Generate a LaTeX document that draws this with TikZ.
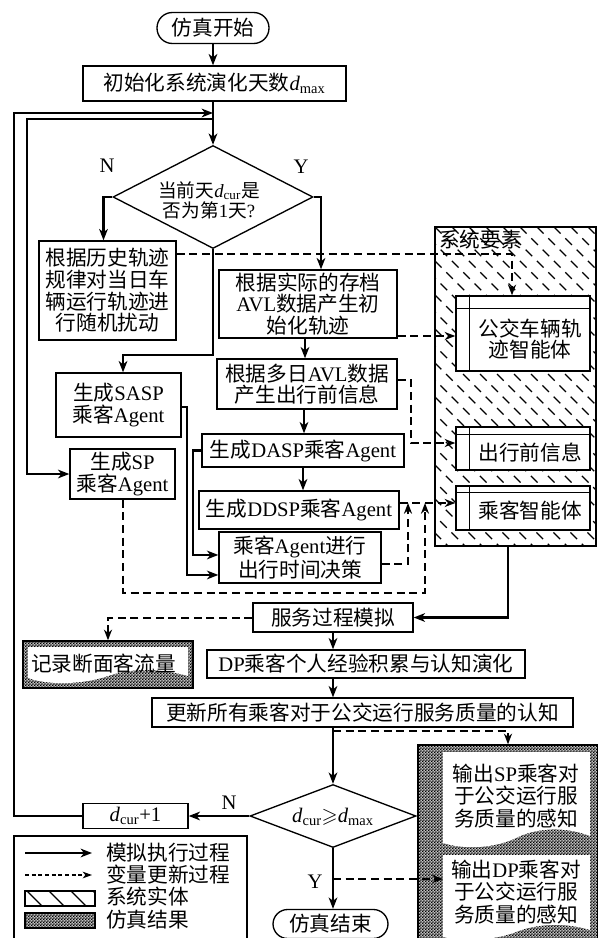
\documentclass[tikz,border=0pt]{standalone}
\usepackage{fontspec}
\usepackage{amssymb}
\setmainfont{Liberation Serif}
\newfontfamily\zh{Noto Sans CJK SC}
\usetikzlibrary{shapes.geometric,arrows.meta,patterns}
\newcommand\fs{\fontsize{15.5pt}{16.2pt}\selectfont}
\newcommand\lat[1]{{\rmfamily #1}}
\newcommand\dd[1]{{\rmfamily\textit{d}\textsubscript{#1}}}
\pgfdeclarepatternformonly{finechecker}{\pgfqpoint{0pt}{0pt}}{\pgfqpoint{2.4pt}{2.4pt}}{\pgfqpoint{2.4pt}{2.4pt}}{%
  \pgfpathrectangle{\pgfqpoint{0pt}{0pt}}{\pgfqpoint{1.2pt}{1.2pt}}%
  \pgfpathrectangle{\pgfqpoint{1.2pt}{1.2pt}}{\pgfqpoint{1.2pt}{1.2pt}}%
  \pgfusepath{fill}}
\begin{document}
\begin{tikzpicture}[x=0.75pt,y=-0.75pt,
  sz/.style 2 args={minimum width=#1*0.75pt, minimum height=#2*0.75pt},
  box/.style={draw, line width=1pt, fill=white, inner sep=0pt, align=center, font=\fs\zh},
  txt/.style={inner sep=0pt, align=center, font=\fs\zh},
  lbl/.style={inner sep=0pt, font=\fs\rmfamily},
  flow/.style={line width=1.8pt, -{Stealth[length=8.5pt,width=6.5pt,inset=2.5pt]}},
  upd/.style={line width=1.5pt, dash pattern=on 6pt off 3.5pt, -{Stealth[length=8pt,width=6pt,inset=2.5pt]}},
  hatch/.style={line width=1pt, dash pattern=on 7pt off 5pt},
  chk/.style={draw, line width=1pt, fill=gray!50, postaction={pattern=finechecker}, inner sep=0pt}
]
\useasboundingbox (0,0) rectangle (597,938);

% ---------- system elements region ----------
\node[draw, line width=1pt, inner sep=0pt, sz={161}{319}] (sys) at (515.5,386.5) {};
\begin{scope}
  \clip (sys.north west) rectangle (sys.south east);
  \foreach \i in {0,...,30} \draw[hatch] (95+\i*17,227) -- ++(330,330);
\end{scope}
\node[txt, anchor=west] (systitle) at (439,240) {系统要素};

\node[box, sz={134}{75}] (bus) at (523,333.5) {};
\node[box, sz={134}{43}] (pre) at (523,448.5) {};
\node[box, sz={134}{44}] (pas) at (523,508) {};
\draw[line width=1pt] ([xshift=10.5pt]bus.north west) -- ([xshift=10.5pt]bus.south west);
\draw[line width=1pt] ([yshift=-9.75pt]bus.north west) -- ([yshift=-9.75pt]bus.north east);
\draw[line width=1pt] ([xshift=10.5pt]pre.north west) -- ([xshift=10.5pt]pre.south west);
\draw[line width=1pt] ([yshift=-6pt]pre.north west) -- ([yshift=-6pt]pre.north east);
\draw[line width=1pt] ([xshift=10.5pt]pas.north west) -- ([xshift=10.5pt]pas.south west);
\draw[line width=1pt] ([yshift=-5.25pt]pas.north west) -- ([yshift=-5.25pt]pas.north east);
\node[txt] (bust) at (530,339) {公交车辆轨\\迹智能体};
\node[txt] (pret) at (530,453) {出行前信息};
\node[txt] (past) at (530,511) {乘客智能体};

% ---------- main nodes ----------
\node[box, rounded corners=11.5pt, sz={112}{31}] (start) at (213,28) {仿真开始};
\node[box, sz={263}{35}] (init) at (214.5,83.5) {初始化系统演化天数\dd{max}};
\node[draw, line width=1pt, diamond, inner sep=0pt, sz={200}{103}] (d1) at (213,197) {};
\node[inner sep=0pt, align=center, font=\fontsize{14pt}{14pt}\selectfont\zh] (d1t) at (209,200) {当前天\dd{cur}是\\否为第\lat{1}天\lat{?}};

\node[box, sz={137}{99}] (hist) at (107.5,290.5) {根据历史轨迹\\规律对当日车\\辆运行轨迹进\\行随机扰动};
\node[box, sz={178}{68}] (avl) at (308,304) {根据实际的存档\\\lat{AVL}数据产生初\\始化轨迹};
\node[box, sz={125}{64}] (sasp) at (118.5,405) {生成\lat{SASP}\\乘客\lat{Agent}};
\node[box, sz={105}{50}] (sp) at (122.5,474) {生成\lat{SP}\\乘客\lat{Agent}};
\node[box, sz={180}{50}] (multi) at (307,384) {根据多日\lat{AVL}数据\\产生出行前信息};
\node[box, sz={202}{33}] (dasp) at (303,450.5) {生成\lat{DASP}乘客\lat{Agent}};
\node[box, sz={200}{38}] (ddsp) at (299,510) {生成\lat{DDSP}乘客\lat{Agent}};
\node[box, sz={162}{51}] (dec) at (300,557.5) {乘客\lat{Agent}进行\\出行时间决策};

\node[box, sz={160}{29}] (svc) at (333,617.5) {服务过程模拟};
\node[box, sz={318}{28}] (dp) at (366,664) {\lat{DP}乘客个人经验积累与认知演化};
\node[box, sz={421}{29}] (upd) at (362.5,712.5) {更新所有乘客对于公交运行服务质量的认知};
\node[draw, line width=1pt, diamond, inner sep=0pt, fill=white, sz={166}{63}] (d2) at (333,816) {};
\node[inner sep=0pt, font=\fs] (d2t) at (333,817) {\dd{cur}$\geqslant$\dd{max}};
\node[box, sz={105}{25}, font=\fs\rmfamily] (dinc) at (135.5,816) {\dd{cur}+1};
\node[box, rounded corners=11pt, sz={115}{29}] (stop) at (330.5,924) {仿真结束};

% ---------- result boxes ----------
\node[chk, sz={170}{47}] (rec) at (108,664.5) {};
\fill[white] (28,647) -- (188,647) -- (188,676) .. controls (160,668) and (130,668) .. (108,676) .. controls (85,684) and (50,686) .. (28,678) -- cycle;
\node[txt] (rect) at (103.5,664) {记录断面客流量};

\node[chk, sz={180}{200}] (out) at (508,845) {};
\fill[white] (443,752) -- (590,752) -- (590,836) .. controls (565,826) and (535,828) .. (516,838) .. controls (495,848) and (465,850) .. (443,843) -- cycle;
\fill[white] (443,855) -- (590,855) -- (590,930) .. controls (565,922) and (535,924) .. (516,932) .. controls (495,940) and (465,942) .. (443,937) -- cycle;
\node[txt, font=\fontsize{15.5pt}{17pt}\selectfont\zh] (spout) at (516,796) {输出\lat{SP}乘客对\\于公交运行服\\务质量的感知};
\node[txt, font=\fontsize{15.5pt}{17pt}\selectfont\zh] (dpout) at (516,892) {输出\lat{DP}乘客对\\于公交运行服\\务质量的感知};
\coordinate (dpdocl) at (443,879);

% ---------- labels ----------
\node[lbl] (n1) at (107,166) {N};
\node[lbl] (y1) at (301,167) {Y};
\node[lbl] (n2) at (229,803) {N};
\node[lbl] (y2) at (315,882) {Y};

% ---------- solid flow connectors ----------
\coordinate (j1) at (213,113);
\coordinate (j2) at (213,119);
\coordinate (j3) at (333,731);
\coordinate (j4) at (333,879);
\draw[flow] (start.south) -- (start.south |- init.north);
\draw[flow] (d1.north |- init.south) -- (d1.north);
\draw[flow] (dinc.west) -| (14,113) -- (j1);
\draw[flow] (j2) -- (27,119) |- (sp.west);
\draw[flow] (d1.west) -| ([xshift=-3pt]hist.north);
\draw[flow] (d1.east) -| ([xshift=9.75pt]avl.north);
\draw[flow] (d1.south) -- (213,355) -| ([xshift=3.4pt]sasp.north);
\draw[flow] (avl.south -| 305,0) -- (multi.north -| 305,0);
\draw[flow] (multi.south -| 304,0) -- (dasp.north -| 304,0);
\draw[flow] (dasp.south -| 303,0) -- (ddsp.north -| 303,0);
\draw[flow] (sasp.east |- 0,407) -- (187,407) |- ([yshift=-13.1pt]dec.west);
\draw[flow] (dasp.west) -- (193,450.5) |- ([yshift=1.9pt]dec.west);
\draw[flow] (sys.south -| 508,0) |- (svc.east);
\draw[flow] (svc.south) -- (svc.south |- dp.north);
\draw[flow] (svc.south |- dp.south) -- (svc.south |- upd.north);
\draw[flow] (d2.north |- upd.south) -- (d2.north);
\draw[flow] (d2.south) -- (d2.south |- stop.north);
\draw[flow] (d2.west) -- (dinc.east);

% ---------- dashed update connectors ----------
\draw[upd] ([yshift=27.4pt]hist.east) -| ([xshift=-8.25pt]bus.north);
\draw[upd] (avl.east |- 0,336) -- (bus.west |- 0,336);
\draw[upd] (multi.east |- 0,380) -- (411,380) |- (pre.west |- 0,443);
\draw[upd] (ddsp.east |- 0,503) -- (pas.west |- 0,503);
\draw[upd] ([yshift=-4.9pt]dec.east) -| (408,503);
\draw[upd] (sp.south) |- (425,593) -- (425,503);
\draw[upd] (svc.west) -| (rec.north);
\draw[upd] (j3) -| (out.north);
\draw[upd] (j4) -- (dpdocl);

% ---------- legend ----------
\node[draw, line width=1pt, inner sep=0pt, sz={233}{110}] (leg) at (130.5,891) {};
\draw[flow] (25,853) -- (92,853);
\draw[line width=0.9pt, dash pattern=on 3pt off 2pt, -{Stealth[length=7pt,width=5pt,inset=2pt]}] (25,875) -- (92,875);
\node[draw, line width=1pt, inner sep=0pt, sz={70}{15}] (lgh) at (60,898.5) {};
\begin{scope}
  \clip (lgh.north west) rectangle (lgh.south east);
  \foreach \i in {0,...,3} \draw[line width=1pt] (27+\i*22,891) -- ++(15,15);
\end{scope}
\node[chk, sz={70}{15}] (lgc) at (60,920.5) {};
\node[txt, anchor=west] (lt1) at (106,853) {模拟执行过程};
\node[txt, anchor=west] (lt2) at (106,875) {变量更新过程};
\node[txt, anchor=west] (lt3) at (106,897) {系统实体};
\node[txt, anchor=west] (lt4) at (106,920) {仿真结果};
\end{tikzpicture}
\end{document}
